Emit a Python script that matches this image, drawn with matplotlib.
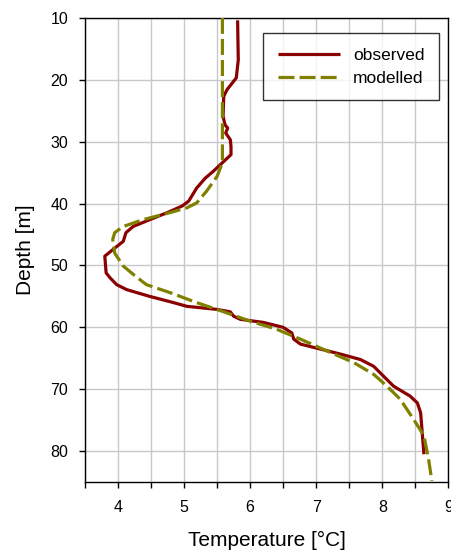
import numpy as np
import matplotlib.pyplot as plt
from matplotlib.ticker import MultipleLocator

# observed profile (temperature, depth)
obs_temp = [5.81, 5.82, 5.79, 5.65, 5.60, 5.59, 5.62, 5.66, 5.63, 5.70, 5.71, 5.71,
            5.55, 5.44, 5.32, 5.19, 5.07, 4.97, 4.76, 4.48, 4.23, 4.12, 4.08, 3.95,
            3.80, 3.82, 3.88, 3.98, 4.13, 4.48, 4.84, 5.04, 5.50, 5.70, 5.75, 5.85,
            6.20, 6.50, 6.63, 6.66, 6.76, 7.06, 7.36, 7.67, 7.87, 8.02, 8.17, 8.42,
            8.53, 8.58, 8.60, 8.63]
obs_depth = [10.4, 16.8, 19.7, 21.6, 22.7, 25.9, 27.3, 27.8, 28.6, 29.7, 30.8, 32.1,
             33.7, 34.8, 35.9, 37.5, 39.6, 40.4, 41.4, 42.6, 43.7, 44.7, 46.1, 47.2,
             48.5, 51.2, 52.0, 53.1, 53.9, 55.0, 56.0, 56.6, 57.1, 57.5, 58.2, 58.7,
             59.2, 60.0, 60.9, 61.9, 62.7, 63.5, 64.3, 65.2, 66.3, 67.9, 69.5, 71.1,
             72.2, 73.8, 76.5, 80.5]

# modelled profile
mod_temp = [5.58, 5.58, 5.58, 5.50, 5.34, 5.19, 5.04, 4.74, 4.38, 4.08, 3.95, 3.92,
            3.95, 4.08, 4.26, 4.43, 4.79, 5.19, 5.55, 6.00, 6.40, 6.76, 7.16, 7.57,
            7.87, 8.07, 8.27, 8.47, 8.63, 8.70, 8.75]
mod_depth = [10.0, 23.2, 33.4, 35.6, 38.0, 39.9, 40.7, 41.6, 42.6, 43.7, 44.7, 45.8,
             48.0, 50.1, 51.7, 53.1, 54.4, 56.0, 57.3, 59.0, 60.3, 61.9, 63.8, 65.7,
             67.6, 69.5, 71.6, 74.8, 77.5, 81.3, 84.8]

plt.rcParams['font.family'] = ['Liberation Sans', 'DejaVu Sans']

fig = plt.figure(figsize=(4.52, 5.58), dpi=100)
ax = fig.add_axes([0.188, 0.136, 0.804, 0.832])

ax.plot(obs_temp, obs_depth, color='#8b0000', lw=2.3, label='observed',
        solid_joinstyle='round', solid_capstyle='butt', zorder=3)
ax.plot(mod_temp, mod_depth, color='#808000', lw=2.3, ls=(0, (5, 1.6)),
        label='modelled', zorder=4)

ax.set_xlim(3.5, 9)
ax.set_ylim(85, 10)
ax.xaxis.set_major_locator(MultipleLocator(1))
ax.xaxis.set_minor_locator(MultipleLocator(0.5))
ax.set_yticks([10, 20, 30, 40, 50, 60, 70, 80])
ax.grid(True, which='both', axis='x', color='#c8c8c8', lw=1)
ax.grid(True, which='major', axis='y', color='#c8c8c8', lw=1)
ax.set_axisbelow(True)
ax.tick_params(axis='both', which='both', direction='out', length=4, width=1,
               labelsize=11.5, colors='black')
ax.tick_params(axis='x', pad=9)
ax.tick_params(axis='y', pad=8)
for s in ax.spines.values():
    s.set_linewidth(1)
    s.set_color('black')

ax.set_xlabel('Temperature [°C]', fontsize=15, labelpad=11)
ax.set_ylabel('Depth [m]', fontsize=15, labelpad=11)

leg = ax.legend(loc='upper right', fontsize=12.5, handlelength=3.6,
                handletextpad=0.75, frameon=True, fancybox=False,
                edgecolor='black', borderpad=0.85, labelspacing=0.45,
                borderaxespad=0, bbox_to_anchor=(0.975, 0.968))
leg.get_frame().set_linewidth(1)

fig.savefig('out.png', dpi=100)
